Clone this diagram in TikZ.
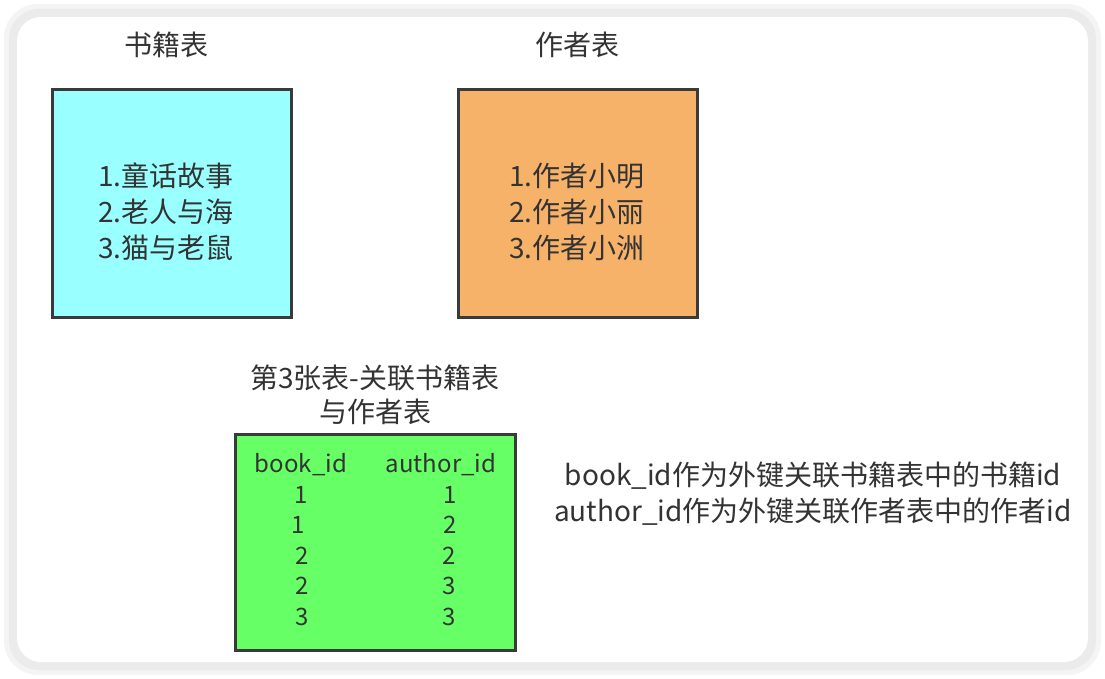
\documentclass[tikz,border=0pt]{standalone}
\usepackage{fontspec}
\setmainfont{Noto Sans CJK SC}
\definecolor{txt}{HTML}{333333}
\definecolor{cyanfill}{HTML}{99FFFF}
\definecolor{orangefill}{HTML}{F7B26A}
\definecolor{greenfill}{HTML}{66FF66}
\definecolor{boxline}{HTML}{3A3A3A}
\definecolor{frameshadow}{HTML}{EBEBEB}
\definecolor{frameedge}{HTML}{F4F4F4}
\begin{document}
\begin{tikzpicture}[x=1pt,y=-1pt,
  tbox/.style={draw=boxline,line width=3pt,inner sep=0pt},
  lbl/.style={text=txt,font=\fontsize{28}{36}\selectfont,inner sep=0pt,anchor=center},
  cell/.style={text=txt,font=\fontsize{24}{30}\selectfont,inner sep=0pt,anchor=center}]
\useasboundingbox (0,0) rectangle (1105,679);
\fill[frameedge,rounded corners=34pt] (4,4) rectangle (1101,675);
\fill[frameshadow,rounded corners=30pt] (9,9) rectangle (1096,670);
\fill[white,rounded corners=24pt] (17,17) rectangle (1088,662);
% book table
\draw[tbox,fill=cyanfill] (52,90) rectangle (291,317);
\node[lbl] (bt) at (166,45) {书籍表};
\node[lbl,align=center] (bl) at (166,212) {1.童话故事\\2.老人与海\\3.猫与老鼠};
% author table
\draw[tbox,fill=orangefill] (458,90) rectangle (697,317);
\node[lbl] (at) at (577,45) {作者表};
\node[lbl,align=center] (al) at (577,212) {1.作者小明\\2.作者小丽\\3.作者小洲};
% third table
\node[lbl,align=center,font=\fontsize{28}{34}\selectfont] (tt) at (375,395) {第3张表-关联书籍表\\与作者表};
\draw[tbox,fill=greenfill] (235,434) rectangle (515,650);
\node[cell] (h1) at (301,465) {book\_id};
\node[cell] (h2) at (441,465) {author\_id};
\node[cell] (a1) at (301,495) {1};
\node[cell] (a2) at (298,525) {1};
\node[cell] (a3) at (302,556) {2};
\node[cell] (a4) at (302,586) {2};
\node[cell] (a5) at (302,617) {3};
\node[cell] (b1) at (450,495) {1};
\node[cell] (b2) at (450,525) {2};
\node[cell] (b3) at (449,556) {2};
\node[cell] (b4) at (449,586) {3};
\node[cell] (b5) at (449,617) {3};
% note
\node[lbl,align=center] (note) at (813,494) {book\_id作为外键关联书籍表中的书籍id\\author\_id作为外键关联作者表中的作者id};
\end{tikzpicture}
\end{document}
